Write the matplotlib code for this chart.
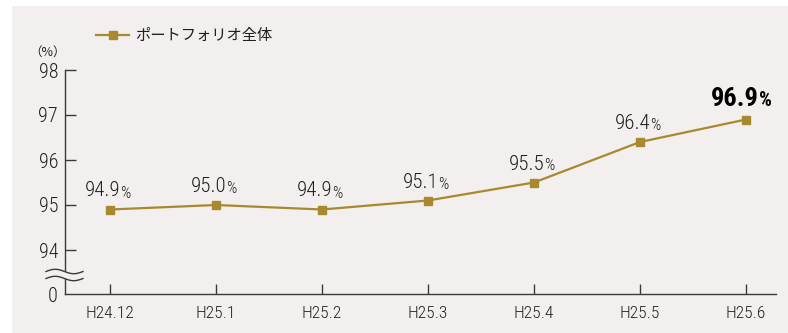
import numpy as np
import matplotlib
matplotlib.use('Agg')
import matplotlib.pyplot as plt
from matplotlib.patches import Rectangle

# data
months = ['H24.12', 'H25.1', 'H25.2', 'H25.3', 'H25.4', 'H25.5', 'H25.6']
occupancy = [94.9, 95.0, 94.9, 95.1, 95.5, 96.4, 96.9]
yticks = [94, 95, 96, 97, 98]
series_name = 'ポートフォリオ全体'

W, H = 788, 333
bg = '#f3efee'
gold = '#a8892f'
ink = '#231f1e'
narrow = ['Roboto Condensed', 'Archivo Narrow', 'DejaVu Sans']
jp = ['Noto Sans CJK JP', 'DejaVu Sans']
thin = 'light'

fig = plt.figure(figsize=(W / 100, H / 100), dpi=100)
fig.patch.set_facecolor('white')
fig.patches.append(Rectangle((12 / W, 0), 1, 1 - 6 / H, transform=fig.transFigure,
                             facecolor=bg, edgecolor='none', zorder=-10))


def px(x, y):
    # pixel (from top-left) to figure fraction
    return x / W, 1 - y / H


# axes placement: y axis at x=65, x axis at y=294, 98 tick at y=70
ax = fig.add_axes([65 / W, 1 - 294 / H, (776 - 65) / W, (294 - 70) / H])
ax.set_facecolor('none')

step = 106.0
y_zero = 94 - 44 / 45.0  # fake position of the "0" label below the break
ax.set_xlim(-(110 - 65) / step, 6 + (776 - 746) / step)
ax.set_ylim(y_zero, 98)

x = np.arange(len(months))
ax.plot(x, occupancy, color=gold, lw=1.6, marker='s', ms=5.5, mec=gold, mfc=gold, zorder=3)

for s in ['top', 'right']:
    ax.spines[s].set_visible(False)
for s in ['left', 'bottom']:
    ax.spines[s].set_color('#3a3a3a')
    ax.spines[s].set_linewidth(1.0)

ax.set_yticks([y_zero] + yticks)
ax.set_yticklabels(['0'] + [str(v) for v in yticks], family=narrow, fontsize=14.5,
                   fontweight=thin, color=ink)
ax.tick_params(axis='y', direction='in', length=8, width=1.0, color='#3a3a3a', pad=5)
ax.yaxis.get_major_ticks()[0].tick1line.set_visible(False)

ax.set_xticks(x)
ax.set_xticklabels(months, family=narrow, fontsize=12.5, fontweight=thin, color=ink)
ax.tick_params(axis='x', direction='in', length=7, width=1.0, color='#3a3a3a', pad=9)

# value labels
for i, v in enumerate(occupancy):
    last = i == len(occupancy) - 1
    if last:
        ax.annotate(f'{v:.1f}', (i, v), xytext=(13, 9), textcoords='offset pixels',
                    ha='right', va='bottom', family=narrow, fontsize=19, fontweight='bold', color='black')
        ax.annotate('%', (i, v), xytext=(13, 9), textcoords='offset pixels',
                    ha='left', va='bottom', family=narrow, fontsize=14.5, fontweight='bold', color='black')
    else:
        ax.annotate(f'{v:.1f}', (i, v), xytext=(11, 9), textcoords='offset pixels',
                    ha='right', va='bottom', family=narrow, fontsize=15, fontweight=thin, color=ink)
        ax.annotate('%', (i, v), xytext=(10, 9), textcoords='offset pixels',
                    ha='left', va='bottom', family=narrow, fontsize=11.5, fontweight=thin, color=ink)

# axis break (double wave over the y axis)
xs = np.linspace(46, 83, 80)
wave = 2.2 * np.sin((xs - 46) / 37 * 2 * np.pi)
y1 = 271.5 - wave
y2 = 278.5 - wave
fx = xs / W
fig.add_artist(plt.Polygon(np.column_stack([np.r_[fx, fx[::-1]],
                                            np.r_[1 - y1 / H, (1 - y2 / H)[::-1]]]),
                           closed=True, facecolor=bg, edgecolor='none',
                           transform=fig.transFigure, zorder=5))
for yy in (y1, y2):
    fig.add_artist(plt.Line2D(fx, 1 - yy / H, color='#3a3a3a', lw=1.0,
                              transform=fig.transFigure, zorder=6))

# unit label
fig.text(*px(48, 52), '（%）', ha='center', va='center', family=jp, fontsize=9, color=ink)

# legend
lx0, lx1, ly = 96, 129, 35
fig.add_artist(plt.Line2D([lx0 / W, lx1 / W], [1 - ly / H] * 2, color=gold, lw=1.6,
                          transform=fig.transFigure))
fig.add_artist(plt.Line2D([(lx0 + lx1) / 2 / W], [1 - ly / H], color=gold, marker='s', ms=5.5,
                          transform=fig.transFigure))
fig.text(*px(135, ly), series_name, ha='left', va='center', family=jp, fontsize=11,
         color=ink)

fig.savefig('out.png', dpi=100, facecolor=fig.get_facecolor())
